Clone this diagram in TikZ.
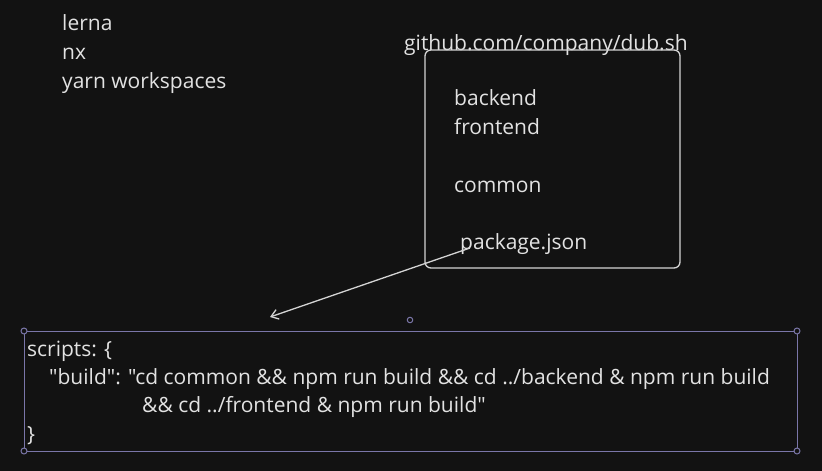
\documentclass[tikz,border=0pt]{standalone}
\usepackage{fontspec}
\setmainfont{Open Sans}[Ligatures=TeXOff]
\usetikzlibrary{arrows.meta}
\definecolor{bg}{HTML}{121212}
\definecolor{txt}{HTML}{E2E2E2}
\definecolor{strk}{HTML}{D4D4D4}
\definecolor{sel}{HTML}{7A76A8}
\tikzset{
  lbl/.style={anchor=base west, inner sep=0pt, text=txt, font=\fontsize{21}{25}\selectfont},
  handle/.style={circle, draw=sel, line width=1pt, minimum size=6pt, inner sep=0pt, fill=bg},
}
\begin{document}
\begin{tikzpicture}[x=1pt,y=-1pt]
\fill[bg] (0,0) rectangle (822,471);
\useasboundingbox (0,0) rectangle (822,471);
% left list
\node[lbl] (lerna) at (62,30) {lerna};
\node[lbl] (nx) at (62,59) {nx};
\node[lbl] (yarn) at (62,88) {yarn workspaces};
% repo
\node[lbl] (repo) at (404,50) {github.com/company/dub.sh};
\draw[strk, line width=1.3pt, rounded corners=6pt] (425,50) rectangle (680,268);
\node[lbl] (backend) at (454,105) {backend};
\node[lbl] (frontend) at (454,134) {frontend};
\node[lbl] (common) at (454,192) {common};
\node[lbl] (pkg) at (460,249) {package.json};
\coordinate (astart) at (470,248);
\coordinate (aend) at (270,317);
\draw[strk, line width=1.3pt, -{Straight Barb[length=7pt,width=10pt]}] (astart) -- (aend);
% selection
\draw[sel, line width=1pt] (24,331) rectangle (797,451);
\node[handle] (h1) at (24,331) {};
\node[handle] (h2) at (797,331) {};
\node[handle] (h3) at (24,451) {};
\node[handle] (h4) at (797,451) {};
\node[handle, minimum size=5.5pt] (rot) at (410,320) {};
% script text
\node[lbl] (l1) at (27,356) {scripts: \{};
\node[lbl] (l2) at (49,384) {"build": "cd common \&\& npm run build \&\& cd ../backend \& npm run build};
\node[lbl] (l3) at (142,412) {\&\& cd ../frontend \& npm run build"};
\node[lbl] (l4) at (27,441) {\}};
\end{tikzpicture}
\end{document}
